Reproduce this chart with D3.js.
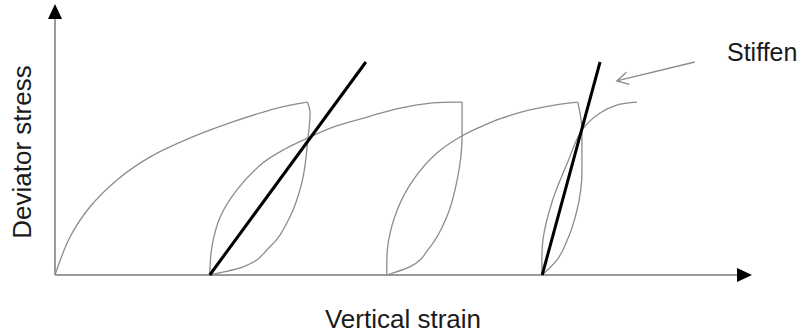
<!DOCTYPE html>
<html>
<head>
<meta charset="utf-8">
<script src="https://cdn.jsdelivr.net/npm/d3@7"></script>
<style>
  html, body { margin: 0; padding: 0; background: #fff; }
  svg { display: block; }
  text { font-family: "Liberation Sans", Arial, sans-serif; fill: #1a1a1a; }
</style>
</head>
<body>
<svg id="chart" width="802" height="334"></svg>
<script>
// strain / stress in arbitrary units (axis origin = 0,0)
// virgin loading
const load0 = [[0, 0], [0.215, 1.4], [0.5, 2.51], [0.89, 3.51], [1.36, 4.35], [1.94, 5.06], [2.55, 5.65], [3.19, 6.16], [3.62, 6.38]];
// unloading branches (peak -> zero stress)
const unload1 = [[3.62, 6.38], [3.66, 5.98], [3.63, 5.06], [3.54, 3.39], [3.37, 2.14], [3.08, 1.03], [2.7, 0.3], [2.22, 0]];
const unload2 = [[5.84, 6.38], [5.84, 5.09], [5.77, 3.51], [5.62, 2.14], [5.38, 1.03], [5.09, 0.3], [4.76, 0]];
const unload3 = [[7.5, 6.38], [7.56, 5.35], [7.56, 3.76], [7.49, 2.4], [7.35, 1.29], [7.2, 0.55], [6.99, 0]];
// reloading branches
const reload1 = [[2.22, 0], [2.25, 1.03], [2.37, 2.14], [2.61, 3.14], [2.98, 4.13], [3.3, 4.65], [3.63, 5.06], [3.99, 5.46], [4.48, 5.83], [4.95, 6.16], [5.42, 6.35], [5.84, 6.38]];
const reload2 = [[4.76, 0], [4.78, 1.18], [4.91, 2.4], [5.14, 3.51], [5.48, 4.5], [5.81, 5.09], [6.1, 5.46], [6.38, 5.76], [6.81, 6.09], [7.17, 6.27], [7.5, 6.38]];
const reload3 = [[6.99, 0], [7.0, 1.29], [7.14, 2.77], [7.35, 4.13], [7.56, 5.35], [7.82, 5.98], [8.06, 6.27], [8.35, 6.38]];
// resilient stiffness lines
const stiffLines = [
  [[2.22, 0], [4.46, 7.86]],
  [[6.99, 0], [7.82, 7.86]]
];
// annotation arrow: from, to
const note = { label: "Stiffen", from: [9.18, 7.86], to: [8.06, 7.16] };
const xLabel = "Vertical strain";
const yLabel = "Deviator stress";

const svg = d3.select("#chart");
const x = d3.scaleLinear().domain([0, 10]).range([55, 752]);
const y = d3.scaleLinear().domain([0, 10]).range([275, 4]);

const axisColor = "#7a7a7a";
const curveColor = "#8c8c8c";

// axes
const axes = svg.append("g").attr("class", "axes");
axes.append("line")
  .attr("x1", x(0)).attr("y1", y(0))
  .attr("x2", x(10) - 12).attr("y2", y(0))
  .attr("stroke", axisColor).attr("stroke-width", 1.5);
axes.append("line")
  .attr("x1", x(0)).attr("y1", y(0))
  .attr("x2", x(0)).attr("y2", y(10) + 12)
  .attr("stroke", axisColor).attr("stroke-width", 1.5);
// arrow heads
axes.append("path")
  .attr("d", `M${x(10)},${y(0)} L${x(10) - 15},${y(0) - 7} L${x(10) - 15},${y(0) + 7} Z`)
  .attr("fill", "#000");
axes.append("path")
  .attr("d", `M${x(0)},${y(10)} L${x(0) - 7},${y(10) + 15} L${x(0) + 7},${y(10) + 15} Z`)
  .attr("fill", "#000");

// loading / reloading: smooth through points
const lineLoad = d3.line()
  .curve(d3.curveCatmullRom.alpha(0.5))
  .x((d) => x(d[0]))
  .y((d) => y(d[1]));
// unloading: monotone in stress
const lineUnload = d3.line()
  .curve(d3.curveMonotoneY)
  .x((d) => x(d[0]))
  .y((d) => y(d[1]));

const curves = svg.append("g").attr("class", "curves");
curves.selectAll("path.load")
  .data([load0, reload1, reload2, reload3])
  .enter()
  .append("path")
  .attr("class", "load")
  .attr("d", lineLoad)
  .attr("fill", "none")
  .attr("stroke", curveColor)
  .attr("stroke-width", 1.3);
curves.selectAll("path.unload")
  .data([unload1, unload2, unload3].map((u) => u.slice().reverse()))
  .enter()
  .append("path")
  .attr("class", "unload")
  .attr("d", lineUnload)
  .attr("fill", "none")
  .attr("stroke", curveColor)
  .attr("stroke-width", 1.3);

svg.append("g")
  .attr("class", "stiffness")
  .selectAll("path")
  .data(stiffLines)
  .enter()
  .append("path")
  .attr("d", d3.line().x((d) => x(d[0])).y((d) => y(d[1])))
  .attr("fill", "none")
  .attr("stroke", "#000")
  .attr("stroke-width", 3);

// annotation arrow
const fx = x(note.from[0]), fy = y(note.from[1]);
const tx = x(note.to[0]), ty = y(note.to[1]);
const ang = Math.atan2(fy - ty, fx - tx);
const barb = 13, spread = 0.5;
const ann = svg.append("g").attr("class", "annotation");
ann.append("path")
  .attr("d", `M${fx},${fy} L${tx},${ty}` +
    ` M${tx + barb * Math.cos(ang - spread)},${ty + barb * Math.sin(ang - spread)} L${tx},${ty}` +
    ` L${tx + barb * Math.cos(ang + spread)},${ty + barb * Math.sin(ang + spread)}`)
  .attr("fill", "none")
  .attr("stroke", curveColor)
  .attr("stroke-width", 1.3);
ann.append("text")
  .attr("x", 727)
  .attr("y", 61)
  .attr("font-size", 25)
  .text(note.label);

// axis titles
svg.append("text")
  .attr("x", 403)
  .attr("y", 328)
  .attr("text-anchor", "middle")
  .attr("font-size", 26)
  .text(xLabel);
svg.append("text")
  .attr("transform", "translate(31,152) rotate(-90)")
  .attr("text-anchor", "middle")
  .attr("font-size", 26)
  .text(yLabel);
</script>
</body>
</html>
